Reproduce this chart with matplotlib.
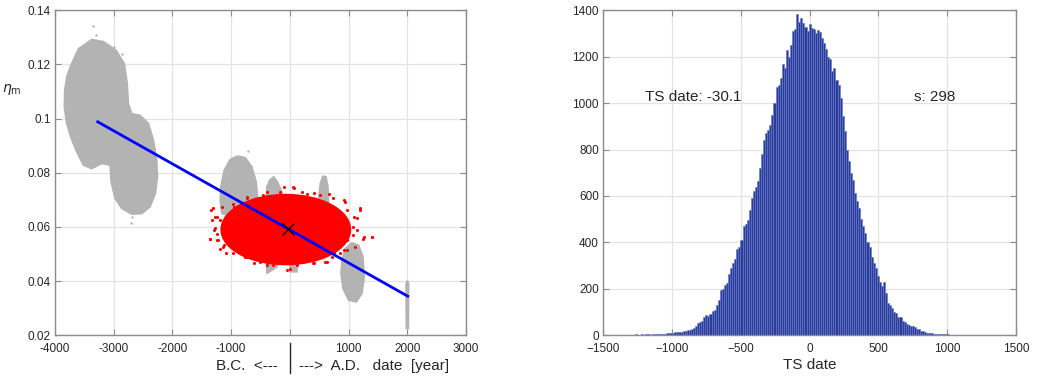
import numpy as np
import matplotlib.pyplot as plt
from matplotlib.patches import Polygon, Ellipse
from matplotlib import transforms

plt.rcParams['font.family'] = ['Liberation Sans', 'DejaVu Sans']

# ---- left panel: outlines of the point clouds (year, eta_m)
nuvens_cinza = [
    # two big clusters (merged outline)
    [(-3740, 0.1191), (-3600, 0.1258), (-3375, 0.1292), (-3176, 0.1284), (-2960, 0.1252),
     (-2820, 0.1203), (-2770, 0.1129), (-2750, 0.1055), (-2693, 0.1018), (-2551, 0.1012),
     (-2409, 0.0982), (-2324, 0.0920), (-2267, 0.0846), (-2256, 0.0785), (-2290, 0.0723),
     (-2381, 0.0674), (-2523, 0.0649), (-2693, 0.0647), (-2864, 0.0668), (-2977, 0.0705),
     (-3045, 0.0766), (-3062, 0.0828), (-3205, 0.0834), (-3375, 0.0815), (-3517, 0.0828),
     (-3631, 0.0877), (-3733, 0.0932), (-3801, 0.0982), (-3841, 0.1043), (-3835, 0.1105),
     (-3800, 0.1154)],
    [(-1187, 0.0698), (-1176, 0.0748), (-1119, 0.0809), (-1017, 0.0849), (-892, 0.0861),
     (-761, 0.0856), (-648, 0.0822), (-574, 0.0766), (-551, 0.0711), (-562, 0.0649),
     (-960, 0.0637), (-1159, 0.0649)],
    [(-392, 0.0748), (-346, 0.0772), (-278, 0.0785), (-210, 0.0766), (-136, 0.0729),
     (-119, 0.0674), (-221, 0.0452), (-392, 0.0428), (-420, 0.0575)],
    [(-51, 0.0575), (148, 0.0575), (120, 0.0434), (6, 0.0434)],
    [(489, 0.0698), (517, 0.0760), (563, 0.0787), (614, 0.0785), (648, 0.0748),
     (659, 0.0674), (631, 0.0502), (517, 0.0502)],
    [(887, 0.0477), (943, 0.0520), (1057, 0.0541), (1171, 0.0532), (1244, 0.0489),
     (1267, 0.0415), (1227, 0.0354), (1131, 0.0323), (1000, 0.0329), (904, 0.0372),
     (870, 0.0428)],
    [(1978, 0.0391), (2000, 0.0401), (2023, 0.0391), (2017, 0.0225), (1983, 0.0225)],
]
cinza_soltos_x = [-3358, -2864, -2693, -2705, -722, -3300, -3000]
cinza_soltos_y = [0.1341, 0.1240, 0.0637, 0.0615, 0.0881, 0.1310, 0.1265]

# red cloud: dense core (centre, width, height) plus scattered points at its edge
nucleo_vermelho = (-70, 0.0590, 2180, 0.0254)
vermelhos_x = [-1347, -1369, -1301, -1244, -1187, -1085, -960, -1017, -108, 63, 205, 404,
               659, 1188, 1085, 1256, 1398, 1142, 1114, 602, 404, -51, -221, -392, -619,
               -761, -1017, -960, -733, -392, 915, 972, 744, 915, -1187, -1273, -1216, -1119,
               -1303, -1332, -1360, -1247, -1133, -963, -736, -509, -281, 2, 116, 400, 627,
               854, 968, 1081, 1195, 1393, 1251, 1138, 939, 740, 513, 286, 59, -168, -452,
               -736, -963, -1161, -1247, -1275, 712, 968, 1081]
vermelhos_y = [0.0664, 0.0557, 0.0588, 0.0575, 0.0520, 0.0502, 0.0526, 0.0618, 0.0748,
               0.0742, 0.0729, 0.0726, 0.0723, 0.0664, 0.0637, 0.0563, 0.0563, 0.0588,
               0.0526, 0.0471, 0.0465, 0.0442, 0.0465, 0.0458, 0.0465, 0.0489, 0.0649,
               0.0674, 0.0711, 0.0729, 0.0698, 0.0662, 0.0502, 0.0514, 0.0625, 0.0637,
               0.0551, 0.0532,
               0.0668, 0.0625, 0.0557, 0.0551, 0.0526, 0.0502, 0.0487, 0.0471, 0.0459,
               0.0446, 0.0459, 0.0467, 0.0471, 0.0502, 0.0551, 0.0600, 0.0668, 0.0563,
               0.0557, 0.0631, 0.0692, 0.0705, 0.0717, 0.0723, 0.0748, 0.0729, 0.0717,
               0.0705, 0.0686, 0.0674, 0.0637, 0.0594, 0.0490, 0.0514, 0.0569]

reta_x = [-3273, 2006]
reta_y = [0.0988, 0.0344]
ts_x, ts_y = -30.1, 0.0592

# ---- right panel: histogram of TS date
bin_inicio = -1380
bin_largura = 15
contagens = [
    1, 0, 2, 1, 1, 2, 1, 2, 3, 2,
    2, 3, 2, 4, 3, 2, 4, 5, 4, 6,
    5, 7, 6, 8, 9, 10, 8, 12, 13, 15,
    14, 17, 19, 21, 24, 27, 30, 38, 52, 57,
    62, 80, 86, 84, 92, 105, 108, 130, 150, 196,
    198, 215, 225, 262, 290, 310, 330, 372, 380, 410,
    470, 480, 498, 540, 590, 620, 640, 665, 720, 780,
    840, 870, 885, 905, 950, 1000, 1070, 1080, 1110, 1170,
    1150, 1230, 1200, 1250, 1310, 1320, 1385, 1350, 1365, 1345,
    1330, 1310, 1340, 1325, 1320, 1300, 1315, 1305, 1280, 1260,
    1235, 1200, 1190, 1140, 1150, 1100, 1080, 1020, 945, 880,
    800, 750, 700, 670, 612, 580, 550, 500, 470, 440,
    400, 380, 335, 310, 290, 255, 230, 210, 228, 180,
    140, 130, 115, 100, 95, 80, 78, 60, 55, 50,
    45, 38, 40, 35, 28, 25, 18, 16, 12, 11,
    9, 8, 7, 6, 5, 6, 4, 3, 4, 3,
    2, 2, 1, 2, 1, 1, 2, 1, 0, 1,
    1, 0, 1, 1, 0, 0, 1, 0, 1, 0,
    0, 1, 0, 0, 0,
]
centros = bin_inicio + bin_largura * np.arange(len(contagens))

cor_eixo = '#8c8c8c'
cor_texto = '#262626'


def estilo_matlab(ax):
    ax.grid(True, color='#e3e3e3', linewidth=0.9)
    ax.set_axisbelow(True)
    for s in ax.spines.values():
        s.set_color(cor_eixo)
        s.set_linewidth(1.0)
    ax.tick_params(direction='in', length=4, width=0.8, color=cor_eixo,
                   top=True, right=True, labelsize=8.5, labelcolor=cor_texto, pad=3)
    ax.tick_params(axis='x', pad=6)


fig = plt.figure(figsize=(10.38, 3.8), dpi=100)
ax1 = fig.add_axes([0.053, 0.118, 0.396, 0.855])
ax2 = fig.add_axes([0.581, 0.118, 0.398, 0.855])

# left
for contorno in nuvens_cinza:
    ax1.add_patch(Polygon(contorno, closed=True, facecolor='#b3b3b3',
                          edgecolor='#b3b3b3', linewidth=1.2, zorder=2))
ax1.scatter(cinza_soltos_x, cinza_soltos_y, s=3, color='#b3b3b3', zorder=2, linewidths=0)
cx, cy, largura, altura = nucleo_vermelho
ax1.add_patch(Ellipse((cx, cy), largura, altura, facecolor='#ff0000',
                      edgecolor='#ff0000', linewidth=2.0, zorder=3))
ax1.scatter(vermelhos_x, vermelhos_y, s=5, color='#ff0000', zorder=3, linewidths=0)
ax1.plot(reta_x, reta_y, color='#0000ff', linewidth=2.0, zorder=4)
ax1.plot([ts_x], [ts_y], marker='x', color='black', markersize=9,
         markeredgewidth=0.9, zorder=5)

ax1.set_xlim(-4000, 3000)
ax1.set_ylim(0.02, 0.14)
ax1.set_xticks(np.arange(-4000, 3001, 1000))
ax1.set_xticklabels(['-4000', '-3000', '-2000', '-1000', '', '1000', '2000', '3000'])
ax1.set_yticks(np.arange(0.02, 0.141, 0.02))
ax1.set_yticklabels(['0.02', '0.04', '0.06', '0.08', '0.1', '0.12', '0.14'])
estilo_matlab(ax1)

ax1.text(-0.105, 0.755, r'$\eta_{\rm m}$', transform=ax1.transAxes,
         fontsize=10, color=cor_texto, ha='center', va='center')
trans = transforms.blended_transform_factory(ax1.transData, ax1.transAxes)
ax1.plot([0, 0], [-0.025, -0.115], transform=trans, color=cor_texto,
         linewidth=1.0, clip_on=False)
ax1.text(-200, -0.095, 'B.C.  <---', transform=trans, ha='right', va='center',
         fontsize=11, color=cor_texto)
ax1.text(150, -0.095, '--->  A.D.   date  [year]', transform=trans, ha='left',
         va='center', fontsize=11, color=cor_texto)

# right
ax2.bar(centros, contagens, width=bin_largura, color='#2c3a98',
        edgecolor='#5f78cc', linewidth=0.4, zorder=2)
ax2.set_xlim(-1500, 1500)
ax2.set_ylim(0, 1400)
ax2.set_xticks(np.arange(-1500, 1501, 500))
ax2.set_yticks(np.arange(0, 1401, 200))
estilo_matlab(ax2)
ax2.set_xlabel('TS date', fontsize=11, color=cor_texto, labelpad=2)
ax2.text(-1197, 1027, 'TS date: -30.1', fontsize=11, color=cor_texto,
         ha='left', va='center')
ax2.text(756, 1027, 's: 298', fontsize=11, color=cor_texto,
         ha='left', va='center')

fig.savefig('out.png', dpi=100)
